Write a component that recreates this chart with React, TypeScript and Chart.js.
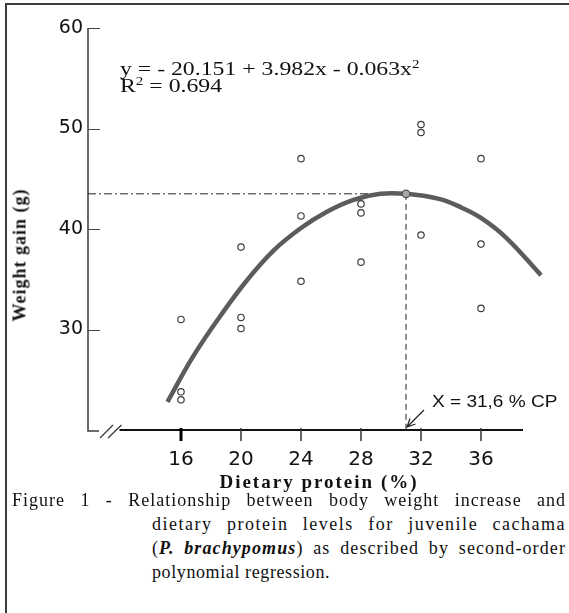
import React, { useEffect, useRef } from "react";
import { Chart, registerables } from "chart.js";

Chart.register(...registerables);

// ---- data ----
const X_TICKS = [16, 20, 24, 28, 32, 36];
const Y_TICKS = [30, 40, 50, 60];
const X_MIN = 9.8;
const X_MAX = 41;
const Y_MIN = 20;
const Y_MAX = 60;

const OBS_X = [16, 16, 16, 20, 20, 20, 24, 24, 24, 28, 28, 28, 32, 32, 32, 36, 36, 36];
const OBS_Y = [31.0, 23.8, 23.0, 38.2, 31.2, 30.1, 47.0, 41.3, 34.8, 42.5, 41.6, 36.7, 50.4, 49.6, 39.4, 47.0, 38.5, 32.1];

const FIT_X = [15.1, 16.8, 18.6, 20.4, 22.2, 24.0, 25.7, 27.5, 29.3, 31.0, 33.2, 34.6, 36.0, 37.7, 40.0];
const FIT_Y = [22.8, 27.3, 31.3, 34.9, 37.9, 40.1, 41.7, 42.9, 43.5, 43.5, 43.0, 42.2, 41.1, 39.1, 35.4];

const PEAK_X = 31.0;
const PEAK_Y = 43.5;
const AXIS_LINE_FROM = 11.9;
const AXIS_LINE_TO = 38.8;

const decorPlugin = {
  id: "decor",
  beforeDatasetsDraw(chart: any) {
    const { ctx, chartArea, scales } = chart;
    const xs = scales.x;
    const ys = scales.y;
    const x0 = chartArea.left;
    const yb = ys.getPixelForValue(Y_MIN);
    const yt = ys.getPixelForValue(Y_MAX);
    ctx.save();
    // y axis line + short foot
    ctx.strokeStyle = "#3a3a3a";
    ctx.lineWidth = 1.5;
    ctx.beginPath();
    ctx.moveTo(x0, yt);
    ctx.lineTo(x0, yb + 1);
    ctx.lineTo(x0 + 11, yb + 1);
    ctx.stroke();
    // axis break slashes
    ctx.lineWidth = 1.2;
    ctx.strokeStyle = "#333";
    ctx.beginPath();
    ctx.moveTo(x0 + 12, yb + 8);
    ctx.lineTo(x0 + 25, yb - 5);
    ctx.moveTo(x0 + 20, yb + 8);
    ctx.lineTo(x0 + 33.5, yb - 5);
    ctx.stroke();
    // x axis line
    ctx.strokeStyle = "#111";
    ctx.lineWidth = 2;
    ctx.beginPath();
    ctx.moveTo(xs.getPixelForValue(AXIS_LINE_FROM), yb);
    ctx.lineTo(xs.getPixelForValue(AXIS_LINE_TO), yb);
    ctx.stroke();
    // y ticks (inside)
    ctx.strokeStyle = "#444";
    ctx.lineWidth = 1.2;
    ctx.beginPath();
    Y_TICKS.forEach((v) => {
      const py = Math.round(ys.getPixelForValue(v)) + 0.5;
      ctx.moveTo(x0, py);
      ctx.lineTo(x0 + 12, py);
    });
    ctx.stroke();
    // x ticks (down)
    X_TICKS.forEach((v, i) => {
      const px = xs.getPixelForValue(v);
      ctx.strokeStyle = i === 0 ? "#000" : "#333";
      ctx.lineWidth = i === 0 ? 3 : 1.5;
      ctx.beginPath();
      ctx.moveTo(px, yb - 2);
      ctx.lineTo(px, yb + 11);
      ctx.stroke();
    });
    // reference lines at the maximum
    const pxp = xs.getPixelForValue(PEAK_X);
    const pyp = ys.getPixelForValue(PEAK_Y);
    ctx.strokeStyle = "#222";
    ctx.lineWidth = 1;
    ctx.setLineDash([8, 3, 2, 3]);
    ctx.beginPath();
    ctx.moveTo(x0, pyp);
    ctx.lineTo(pxp, pyp);
    ctx.stroke();
    ctx.setLineDash([6, 4]);
    ctx.beginPath();
    ctx.moveTo(pxp, pyp);
    ctx.lineTo(pxp, yb);
    ctx.stroke();
    ctx.setLineDash([]);
    // arrow to the optimum
    const tipX = pxp + 1;
    const tipY = yb - 3;
    const tailX = pxp + 18;
    const tailY = yb - 20;
    ctx.strokeStyle = "#222";
    ctx.lineWidth = 1.2;
    ctx.beginPath();
    ctx.moveTo(tailX, tailY);
    ctx.lineTo(tipX, tipY);
    const ang = Math.atan2(tailY - tipY, tailX - tipX);
    const hl = 9;
    ctx.moveTo(tipX + hl * Math.cos(ang + 0.45), tipY + hl * Math.sin(ang + 0.45));
    ctx.lineTo(tipX, tipY);
    ctx.lineTo(tipX + hl * Math.cos(ang - 0.45), tipY + hl * Math.sin(ang - 0.45));
    ctx.stroke();
    ctx.restore();
  },
};

export default function App() {
  const ref = useRef<HTMLCanvasElement>(null);

  useEffect(() => {
    if (!ref.current) return;
    const chart = new Chart(ref.current, {
      type: "scatter",
      data: {
        datasets: [
          {
            label: "fit",
            data: FIT_X.map((x, i) => ({ x, y: FIT_Y[i] })),
            showLine: true,
            borderColor: "#5c5c5c",
            borderWidth: 4.5,
            pointRadius: 0,
            tension: 0.4,
            fill: false,
            order: 3,
          } as any,
          {
            label: "observed",
            data: OBS_X.map((x, i) => ({ x, y: OBS_Y[i] })),
            pointRadius: 3.2,
            pointBorderWidth: 1.2,
            borderColor: "#3c3c3c",
            backgroundColor: "#ffffff",
            order: 2,
          },
          {
            label: "max",
            data: [{ x: PEAK_X, y: PEAK_Y }],
            pointRadius: 3.8,
            pointBorderWidth: 1.2,
            borderColor: "#555",
            backgroundColor: "#a8a8a8",
            order: 1,
          },
        ],
      },
      options: {
        responsive: false,
        animation: false,
        events: [],
        layout: { padding: { left: 0, right: 13, top: 28, bottom: 0 } },
        plugins: { legend: { display: false }, tooltip: { enabled: false }, title: { display: false } },
        scales: {
          x: {
            type: "linear",
            min: X_MIN,
            max: X_MAX,
            border: { display: false },
            grid: { display: false, drawTicks: false },
            afterBuildTicks: (s: any) => {
              s.ticks = X_TICKS.map((v) => ({ value: v }));
            },
            afterFit: (s: any) => {
              s.height = 50;
            },
            ticks: {
              autoSkip: false,
              maxRotation: 0,
              padding: 18,
              color: "#111",
              font: { family: "'DejaVu Sans', sans-serif", size: 20 },
              callback: (v: any) => String(v),
            },
          },
          y: {
            type: "linear",
            min: Y_MIN,
            max: Y_MAX,
            border: { display: false },
            grid: { display: false, drawTicks: false },
            afterBuildTicks: (s: any) => {
              s.ticks = Y_TICKS.map((v) => ({ value: v }));
            },
            afterFit: (s: any) => {
              s.width = 88;
            },
            ticks: {
              padding: 5,
              color: "#111",
              font: { family: "'DejaVu Sans', sans-serif", size: 19 },
              callback: (v: any) => String(v),
            },
          },
        },
      },
      plugins: [decorPlugin],
    } as any);
    return () => chart.destroy();
  }, []);

  const serif = "'Liberation Serif', 'Times New Roman', serif";
  const lineBase: React.CSSProperties = {
    position: "absolute",
    fontFamily: serif,
    fontSize: 18,
    lineHeight: "24px",
    whiteSpace: "nowrap",
    color: "#111",
  };
  const just: React.CSSProperties = {
    ...lineBase,
    whiteSpace: "normal",
    textAlign: "justify",
    textAlignLast: "justify" as any,
  };
  const sup: React.CSSProperties = { fontSize: 12, verticalAlign: "super", lineHeight: 0 };

  return (
    <div
      style={{
        position: "absolute",
        left: 0,
        top: 0,
        width: 569,
        height: 613,
        background: "#fff",
        overflow: "hidden",
      }}
    >
      <div
        style={{
          position: "absolute",
          left: 5,
          top: 3,
          right: 0,
          bottom: 0,
          borderLeft: "2px solid #3c3c3c",
          borderTop: "2px solid #3c3c3c",
        }}
      />
      <canvas ref={ref} width={569} height={480} style={{ position: "absolute", left: 0, top: 0 }} />

      {/* regression equation */}
      <div
        style={{
          position: "absolute",
          left: 120,
          top: 60,
          fontFamily: serif,
          fontSize: 19,
          lineHeight: "17px",
          whiteSpace: "nowrap",
          color: "#111",
          transform: "scaleX(1.25)",
          transformOrigin: "left top",
        }}
      >
        <div>
          y = - 20.151 + 3.982x - 0.063x<span style={sup}>2</span>
        </div>
        <div>
          R<span style={sup}>2</span> = 0.694
        </div>
      </div>

      {/* optimum label */}
      <div
        style={{
          position: "absolute",
          left: 432,
          top: 392,
          fontFamily: "'Liberation Sans', Arial, sans-serif",
          fontSize: 17,
          lineHeight: "20px",
          whiteSpace: "nowrap",
          color: "#111",
          transform: "scaleX(1.12)",
          transformOrigin: "left top",
        }}
      >
        X = 31,6 % CP
      </div>

      {/* y axis title */}
      <div
        style={{
          position: "absolute",
          left: 20,
          top: 255,
          transform: "translate(-50%, -50%) rotate(-90deg)",
          fontFamily: serif,
          fontWeight: "bold",
          fontSize: 18,
          letterSpacing: 1,
          whiteSpace: "nowrap",
          color: "#111",
        }}
      >
        Weight gain (g)
      </div>

      {/* x axis title */}
      <div
        style={{
          position: "absolute",
          left: 319,
          top: 482,
          transform: "translate(-50%, -50%)",
          fontFamily: serif,
          fontWeight: "bold",
          fontSize: 19,
          letterSpacing: 2,
          whiteSpace: "nowrap",
          color: "#111",
        }}
      >
        Dietary protein (%)
      </div>

      {/* caption */}
      <div style={{ ...just, left: 12, top: 488, width: 554, letterSpacing: 1.0 }}>
        Figure 1 - Relationship between body weight increase and
      </div>
      <div style={{ ...just, left: 152, top: 512, width: 414, letterSpacing: 1.5 }}>
        dietary protein levels for juvenile cachama
      </div>
      <div style={{ ...just, left: 152, top: 536, width: 414, letterSpacing: 1.1 }}>
        (<b><i>P. brachypomus</i></b>) as described by second-order
      </div>
      <div style={{ ...lineBase, left: 152, top: 560, letterSpacing: 0.6 }}>polynomial regression.</div>
    </div>
  );
}
